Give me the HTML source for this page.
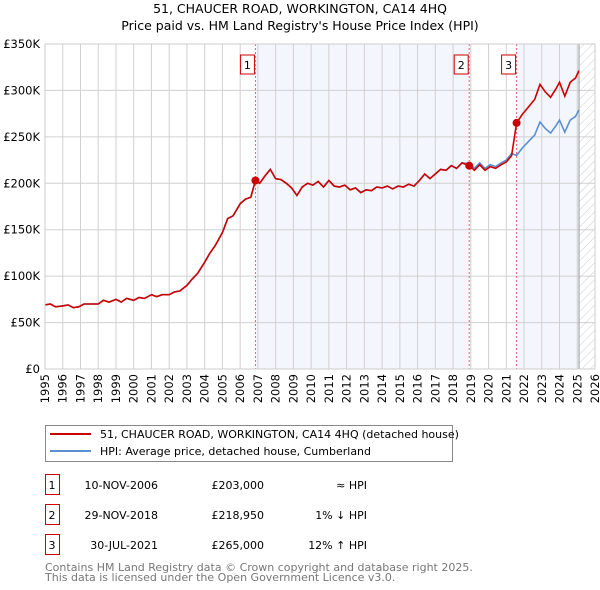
<!DOCTYPE html>
<html><head><meta charset="utf-8"><style>
body{margin:0;background:#fff;}
svg{display:block;font-family:"DejaVu Sans","Liberation Sans",sans-serif;}
</style></head><body>
<svg id="c" width="600" height="590" viewBox="0 0 600 590" xmlns="http://www.w3.org/2000/svg">
<defs><pattern id="hatch" width="6" height="6" patternUnits="userSpaceOnUse" patternTransform="rotate(45)"><line x1="0" y1="0" x2="0" y2="6" stroke="#ccc" stroke-width="1"/></pattern></defs>
<text x="300" y="13" text-anchor="middle" font-size="12.5">51, CHAUCER ROAD, WORKINGTON, CA14 4HQ</text>
<text x="300" y="30" text-anchor="middle" font-size="12.5">Price paid vs. HM Land Registry's House Price Index (HPI)</text>
<g id="plot"></g>
<g>
<rect x="45.5" y="425.5" width="407" height="36" fill="#fff" stroke="#888"/>
<line x1="50" y1="434" x2="91" y2="434" stroke="#cc0000" stroke-width="2"/>
<text x="100" y="438" font-size="11">51, CHAUCER ROAD, WORKINGTON, CA14 4HQ (detached house)</text>
<line x1="50" y1="451" x2="91" y2="451" stroke="#5b8fd0" stroke-width="2"/>
<text x="100" y="455" font-size="11">HPI: Average price, detached house, Cumberland</text>
</g>
<g id="table" font-size="11"></g>
<text x="45" y="571" font-size="11" fill="#777">Contains HM Land Registry data © Crown copyright and database right 2025.</text>
<text x="45" y="581" font-size="11" fill="#777">This data is licensed under the Open Government Licence v3.0.</text>
</svg>
<script>
const hpiYears=[1995,1995.3,1995.6,1996,1996.3,1996.6,1996.9,1997.2,1997.5,1998,1998.3,1998.6,1999,1999.3,1999.6,2000,2000.3,2000.6,2001,2001.3,2001.6,2002,2002.3,2002.6,2003,2003.3,2003.6,2004,2004.3,2004.6,2005,2005.3,2005.6,2006,2006.3,2006.6,2006.86,2007.1,2007.4,2007.7,2008,2008.3,2008.6,2008.9,2009.2,2009.5,2009.8,2010.1,2010.4,2010.7,2011,2011.3,2011.6,2011.9,2012.2,2012.5,2012.8,2013.1,2013.4,2013.7,2014,2014.3,2014.6,2014.9,2015.2,2015.5,2015.8,2016.1,2016.4,2016.7,2017,2017.3,2017.6,2017.9,2018.2,2018.5,2018.91,2019.2,2019.5,2019.8,2020.1,2020.4,2020.7,2021,2021.3,2021.58,2021.9,2022.2,2022.6,2022.9,2023.2,2023.5,2023.8,2024.0,2024.3,2024.6,2024.9,2025.1];
const hpiValues=[69,70,67,68,69,66,67,70,70,70,74,72,75,72,76,74,77,76,80,78,80,80,83,84,90,97,103,115,125,133,147,162,165,178,183,185,203,200,208,215,205,204,200,195,187,196,200,198,202,196,203,197,196,198,193,195,190,193,192,196,195,197,194,197,196,199,197,203,210,205,210,215,214,219,216,222,221,216,222,216,220,218,222,225,232,230,238,244,252,266,259,254,262,268,255,268,272,279,280];
const saleYears=[2006.86,2018.91,2021.58];
const saleLabels=["1","2","3"];
const salePrices=[203,218.95,265];
const saleDates=["10-NOV-2006","29-NOV-2018","30-JUL-2021"];
const salePriceText=["£203,000","£218,950","£265,000"];
const saleHpiText=["≈ HPI","1% ↓ HPI","12% ↑ HPI"];
const yTicks=[0,50,100,150,200,250,300,350];
const yTickLabels=["£0","£50K","£100K","£150K","£200K","£250K","£300K","£350K"];
const xTicks=[1995,1996,1997,1998,1999,2000,2001,2002,2003,2004,2005,2006,2007,2008,2009,2010,2011,2012,2013,2014,2015,2016,2017,2018,2019,2020,2021,2022,2023,2024,2025,2026];
const NS="http://www.w3.org/2000/svg";
const X0=45,X1=595,Y0=369,Y1=44;
const xs=y=>X0+(y-1995)/(2026-1995)*(X1-X0);
const ys=v=>Y0-v/350*(Y0-Y1);
function mk(tag,attrs,parent){const e=document.createElementNS(NS,tag);for(const k in attrs)e.setAttribute(k,attrs[k]);parent.appendChild(e);return e;}
const plot=document.getElementById('plot');
function hpiAt(t){for(let i=0;i<hpiYears.length-1;i++){if(t<=hpiYears[i+1]){const f=(t-hpiYears[i])/(hpiYears[i+1]-hpiYears[i]);return hpiValues[i]+f*(hpiValues[i+1]-hpiValues[i]);}}return hpiValues[hpiValues.length-1];}
let r=mk('rect',{x:xs(saleYears[0]),y:Y1,width:xs(saleYears[1])-xs(saleYears[0]),height:Y0-Y1,fill:'#f3f6fd'},plot);

r=mk('rect',{x:xs(saleYears[2]),y:Y1,width:xs(2025.1)-xs(saleYears[2]),height:Y0-Y1,fill:'#f3f6fd'},plot);

r=mk('rect',{x:xs(2025.1),y:Y1,width:X1-xs(2025.1),height:Y0-Y1,fill:'url(#hatch)'},plot);

xTicks.forEach((t,i)=>{const l=mk('line',{x1:xs(t),x2:xs(t),y1:Y1,y2:Y0,stroke:'#d0d0d0'},plot);

const tx=mk('text',{x:0,y:0,'text-anchor':'end','font-size':'11.5',transform:'translate('+(xs(t)+4)+',374) rotate(-90)'},plot);tx.textContent=t;
});
yTicks.forEach((v,i)=>{const l=mk('line',{x1:X0,x2:X1,y1:ys(v),y2:ys(v),stroke:'#d0d0d0'},plot);

const tx=mk('text',{x:40,y:ys(v)+4,'text-anchor':'end','font-size':'11.5'},plot);tx.textContent=yTickLabels[i];
});
let bl=mk('line',{x1:xs(2025.1),x2:xs(2025.1),y1:Y1,y2:Y0,stroke:'#999'},plot);

saleYears.forEach((s,i)=>{const l=mk('line',{x1:xs(s),x2:xs(s),y1:Y1,y2:Y0,stroke:'#e06070','stroke-dasharray':'2,2'},plot);

const b=mk('rect',{x:xs(s)-15,y:55,width:14,height:19,fill:'#fff',stroke:'#cc0000'},plot);

const t=mk('text',{x:xs(s)-8,y:69,'text-anchor':'middle','font-size':'11'},plot);t.textContent=saleLabels[i];
});
const hp=hpiYears.map((t,i)=>xs(t).toFixed(1)+','+ys(hpiValues[i]).toFixed(1)).join(' ');
const hl=mk('polyline',{points:hp,fill:'none',stroke:'#5b8fd0','stroke-width':'1.6'},plot);

const ratios=saleYears.map((s,i)=>salePrices[i]/hpiAt(s));
const pts=[];
hpiYears.forEach((t,i)=>{let k=0;for(let j=0;j<saleYears.length;j++)if(t>=saleYears[j]-1e-6)k=j;
const nxt=saleYears.find(s=>s>t&&s<hpiYears[i+1]);
pts.push(xs(t).toFixed(1)+','+ys(hpiValues[i]*ratios[k]).toFixed(1));
if(nxt!==undefined){const k2=saleYears.indexOf(nxt);pts.push(xs(nxt).toFixed(1)+','+ys(hpiAt(nxt)*ratios[k2>0?k2-1:0]).toFixed(1));pts.push(xs(nxt).toFixed(1)+','+ys(salePrices[k2]).toFixed(1));}});
const pl=mk('polyline',{points:pts.join(' '),fill:'none',stroke:'#cc0000','stroke-width':'1.6'},plot);

saleYears.forEach((s,i)=>{const c=mk('circle',{cx:xs(s),cy:ys(salePrices[i]),r:4,fill:'#cc0000'},plot);
});
let ax=mk('rect',{x:X0,y:Y1,width:X1-X0,height:Y0-Y1,fill:'none',stroke:'#ccc'},plot);

const tb=document.getElementById('table');
saleYears.forEach((s,i)=>{const y=485+i*30;
const b=mk('rect',{x:45.5,y:y-10.5,width:14,height:20,fill:'#fff',stroke:'#cc0000'},tb);

const cols=[[52,'middle',saleLabels[i]],[158,'end',saleDates[i]],[264,'end',salePriceText[i]],[367,'end',saleHpiText[i]]];
cols.forEach(c=>{const t=mk('text',{x:c[0],y:y+4,'text-anchor':c[1]},tb);t.textContent=c[2];
});});
</script>
</body></html>
